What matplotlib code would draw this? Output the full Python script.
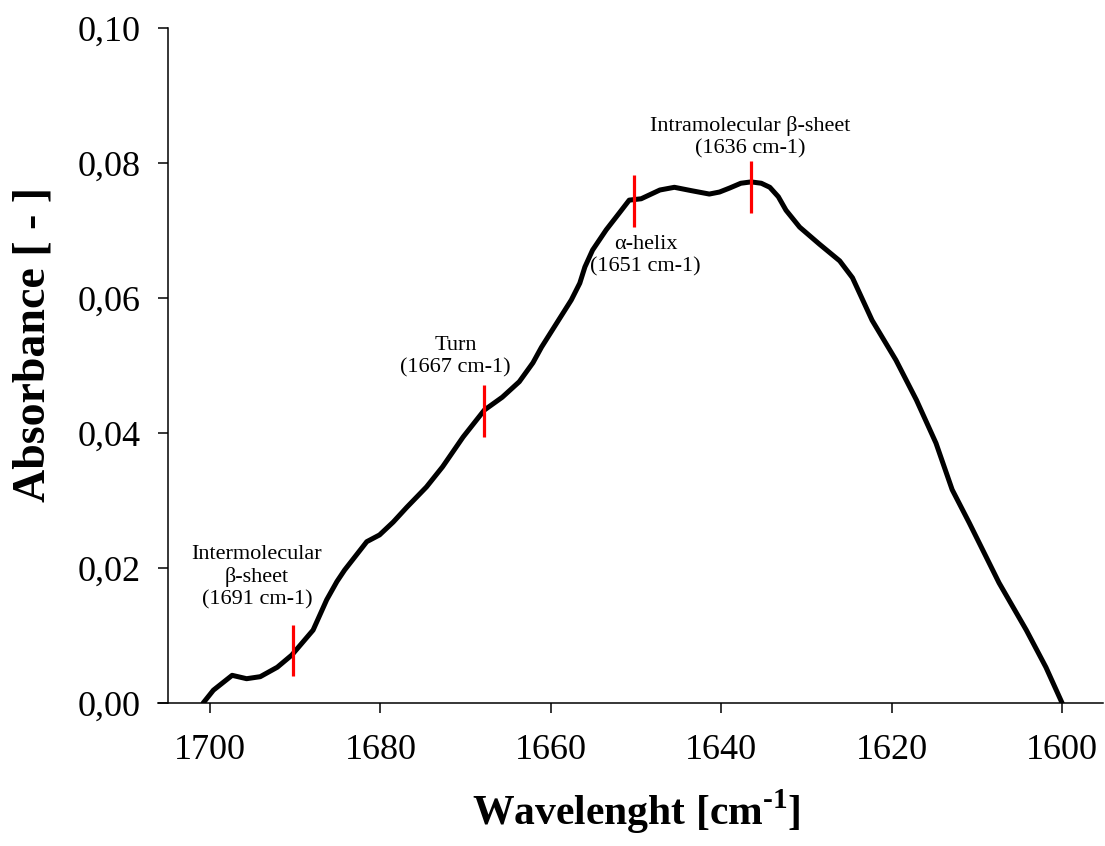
import matplotlib.pyplot as plt
from matplotlib.ticker import FixedLocator, FixedFormatter

plt.rcParams["font.family"] = ["Liberation Serif", "DejaVu Serif"]
plt.rcParams["mathtext.fontset"] = "custom"
plt.rcParams["mathtext.rm"] = "Liberation Serif"
plt.rcParams["mathtext.bf"] = "Liberation Serif:bold"

# spectrum (wavenumber, absorbance)
wavenumber = [1700.8, 1699.6, 1697.4, 1695.7, 1694.1, 1692.1, 1690.4, 1687.9,
              1686.3, 1685.1, 1684.2, 1681.6, 1680.1, 1678.5, 1676.9, 1674.6,
              1672.7, 1670.3, 1667.8, 1665.7, 1663.7, 1662.1, 1661.1, 1659.3,
              1657.6, 1656.6, 1656.0, 1655.1, 1653.5, 1651.9, 1650.8, 1649.4,
              1647.2, 1645.5, 1643.5, 1641.4, 1640.2, 1639.0, 1637.7, 1636.5,
              1635.3, 1634.3, 1633.3, 1632.4, 1630.8, 1628.5, 1626.1, 1624.6,
              1622.3, 1619.5, 1617.1, 1614.8, 1612.9, 1610.9, 1607.4, 1604.2,
              1601.9, 1600.0]
absorbance = [0.0, 0.0019, 0.0041, 0.0036, 0.0039, 0.0053, 0.0071, 0.0108,
              0.0153, 0.0180, 0.0197, 0.0239, 0.0249, 0.0268, 0.0290, 0.0320,
              0.0350, 0.0394, 0.0434, 0.0453, 0.0476, 0.0504, 0.0527, 0.0563,
              0.0597, 0.0622, 0.0646, 0.0671, 0.0701, 0.0727, 0.0745, 0.0747,
              0.0760, 0.0764, 0.0759, 0.0754, 0.0757, 0.0763, 0.0770, 0.0772,
              0.0770, 0.0764, 0.0750, 0.0730, 0.0705, 0.0680, 0.0655, 0.0630,
              0.0567, 0.0508, 0.0449, 0.0385, 0.0316, 0.0267, 0.0178, 0.0108,
              0.0053, 0.0]

# band markers: position, bottom/top of the red bar
band_pos = [1690.3, 1667.8, 1650.2, 1636.5]
band_low = [0.0040, 0.0394, 0.0705, 0.0726]
band_high = [0.0116, 0.0471, 0.0782, 0.0803]
band_text = ["Intermolecular\nβ-sheet\n(1691 cm-1)",
             "Turn\n(1667 cm-1)",
             "α-helix\n(1651 cm-1)",
             "Intramolecular β-sheet\n(1636 cm-1)"]
text_x = [1694.5, 1671.2, 1648.9, 1636.6]
text_y = [0.0186, 0.0513, 0.0663, 0.0838]

x_ticks = [1700, 1680, 1660, 1640, 1620, 1600]
y_ticks = [0.00, 0.02, 0.04, 0.06, 0.08, 0.10]
y_tick_labels = ["0,00", "0,02", "0,04", "0,06", "0,08", "0,10"]

fig = plt.figure(figsize=(11.05, 8.46), dpi=100)
ax = fig.add_axes([158 / 1105, 1 - 703 / 846, (1103 - 158) / 1105, (703 - 28) / 846])

ax.plot(wavenumber, absorbance, color="black", lw=3.6, solid_joinstyle="round",
        solid_capstyle="round", zorder=3)
ax.vlines(band_pos, band_low, band_high, color="#ff0000", lw=2.3, zorder=4)
for tx, ty, s in zip(text_x, text_y, band_text):
    ax.text(tx, ty, s, ha="center", va="center", fontsize=16, linespacing=1.2)

ax.set_xlim(1706.1, 1595.2)
ax.set_ylim(0, 0.10)
ax.spines["top"].set_visible(False)
ax.spines["right"].set_visible(False)
ax.spines["left"].set_position(("data", 1704.9))
for s in ("left", "bottom"):
    ax.spines[s].set_linewidth(1.1)

ax.xaxis.set_major_locator(FixedLocator(x_ticks))
ax.yaxis.set_major_locator(FixedLocator(y_ticks))
ax.yaxis.set_major_formatter(FixedFormatter(y_tick_labels))
ax.tick_params(axis="both", direction="out", length=7, width=1.1, labelsize=26)
ax.tick_params(axis="x", pad=15)
ax.tick_params(axis="y", pad=13)

fig.text(34 / 1105, 1 - 345 / 846, "Absorbance [ - ]", rotation=90,
         ha="center", va="center", fontsize=33, fontweight="bold")
fig.text(636 / 1105, 1 - 812 / 846, "Wavelenght [cm$^{\\mathbf{\u20101}}$]",
         ha="center", va="center", fontsize=30, fontweight="bold")

fig.savefig("out.png", dpi=100)
